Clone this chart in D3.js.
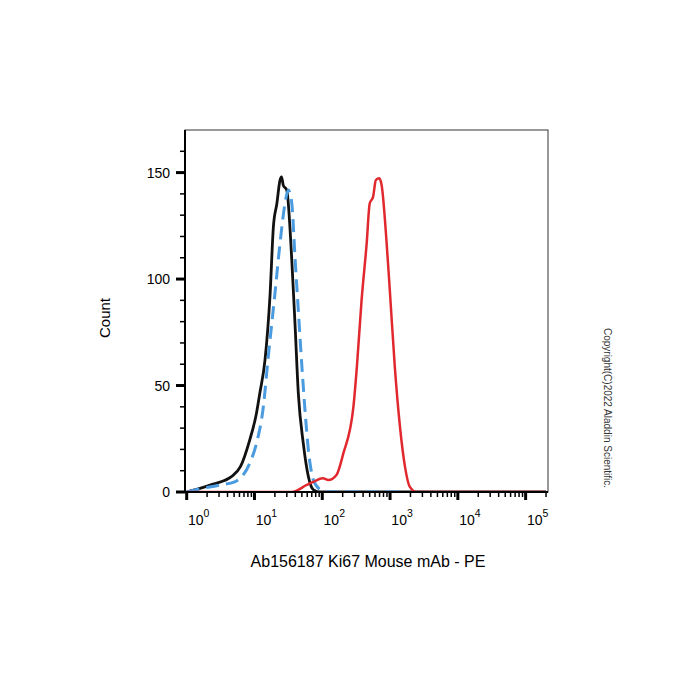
<!DOCTYPE html>
<html>
<head>
<meta charset="utf-8">
<script src="https://cdn.jsdelivr.net/npm/d3@7"></script>
<style>
  body { margin: 0; background: #fff; }
  text { font-family: Arial, "Liberation Sans", sans-serif; }
</style>
</head>
<body>
<svg id="chart" width="700" height="700"></svg>
<script>
// histogram traces: [intensity, count]
const blankTrace = [[1,0],[1.57,1.7],[2.45,3.7],[4.57,7.2],[6.2,11.9],[8.5,24.4],[10.7,37],[12,46.5],[14.3,62],[17,93],[19,124.5],[21.4,135.5],[23.8,146.5],[25.1,148],[26.6,144],[29.9,141.8],[35.5,109],[39.8,77.6],[44.3,46.5],[52.5,22.8],[62.4,7.2],[74.1,1],[93,0],[200000,0]];
const isotypeTrace = [[1,0],[1.6,1.5],[3.1,3.3],[5.1,4.8],[8.5,13.5],[10.7,22.8],[13.5,40],[15.8,62],[20,93],[23.8,116.8],[28.2,135.5],[31.6,141.8],[35.5,135.5],[39.8,109],[44.3,85.4],[50.1,58.8],[55.6,38.5],[62.4,19.7],[74.1,5.6],[93.3,1],[112,0],[1400,0]];
const ki67Trace = [[1,0],[35.5,0],[58.9,3.3],[74.1,4.8],[102,6.4],[123,5.6],[162,8],[204,18],[288,40],[324,58.8],[380,90],[452,116.8],[501,135.5],[562,138.6],[617,146.5],[692,147.3],[752,144],[891,116.8],[1000,93],[1175,58.8],[1400,30.7],[1660,11.9],[1950,2.5],[2450,0],[200000,0]];

const yMajor = [0, 50, 100, 150];
const yMinor = [10, 20, 30, 40, 60, 70, 80, 90, 110, 120, 130, 140, 160];
const xDecades = [0, 1, 2, 3, 4, 5];

const plotLeft = 185, plotRight = 548, plotTop = 130, plotBottom = 492;

const svg = d3.select("#chart");

const x = d3.scaleLog()
  .domain([Math.pow(10, -0.025), Math.pow(10, 5.33)])
  .range([plotLeft, plotRight]);

const y = d3.scaleLinear()
  .domain([0, 170])
  .range([plotBottom, plotTop]);

svg.append("clipPath").attr("id", "plot-clip")
  .append("rect")
  .attr("x", plotLeft).attr("y", plotTop - 5)
  .attr("width", plotRight - plotLeft).attr("height", plotBottom - plotTop + 5);

// frame
svg.append("rect")
  .attr("x", plotLeft).attr("y", plotTop)
  .attr("width", plotRight - plotLeft).attr("height", plotBottom - plotTop)
  .attr("fill", "none")
  .attr("stroke", "#333")
  .attr("stroke-width", 1);

const line = d3.line()
  .x(d => x(d[0]))
  .y(d => y(d[1]))
  .curve(d3.curveMonotoneX);

const traces = svg.append("g").attr("clip-path", "url(#plot-clip)");

traces.append("path")
  .attr("d", line(blankTrace))
  .attr("fill", "none")
  .attr("stroke", "#111")
  .attr("stroke-width", 2.8);

traces.append("path")
  .attr("d", line(isotypeTrace))
  .attr("fill", "none")
  .attr("stroke", "#4a9be0")
  .attr("stroke-width", 3)
  .attr("stroke-dasharray", "13,7");

traces.append("path")
  .attr("d", line(ki67Trace))
  .attr("fill", "none")
  .attr("stroke", "#e0282e")
  .attr("stroke-width", 2.5);

// y axis
const yAxis = svg.append("g");
yAxis.append("line")
  .attr("x1", plotLeft).attr("x2", plotLeft)
  .attr("y1", plotTop).attr("y2", plotBottom + 1)
  .attr("stroke", "#000").attr("stroke-width", 2);

yAxis.selectAll(".ymaj").data(yMajor).join("line")
  .attr("x1", plotLeft - 9).attr("x2", plotLeft)
  .attr("y1", d => y(d)).attr("y2", d => y(d))
  .attr("stroke", "#000").attr("stroke-width", 3);

yAxis.selectAll(".ymin").data(yMinor).join("line")
  .attr("x1", plotLeft - 5).attr("x2", plotLeft)
  .attr("y1", d => y(d)).attr("y2", d => y(d))
  .attr("stroke", "#000").attr("stroke-width", 1.5);

yAxis.selectAll("text").data(yMajor).join("text")
  .attr("x", plotLeft - 15)
  .attr("y", d => y(d) + 5)
  .attr("text-anchor", "end")
  .attr("font-size", "14px")
  .text(d => d);

// x axis
const xAxis = svg.append("g");
xAxis.append("line")
  .attr("x1", plotLeft - 1).attr("x2", plotRight)
  .attr("y1", plotBottom).attr("y2", plotBottom)
  .attr("stroke", "#000").attr("stroke-width", 2);

let minorVals = [];
xDecades.forEach(e => {
  for (let m = 2; m <= 9; m++) {
    const v = m * Math.pow(10, e);
    if (v <= x.domain()[1]) minorVals.push(v);
  }
});

xAxis.selectAll(".xmin").data(minorVals).join("line")
  .attr("x1", d => x(d)).attr("x2", d => x(d))
  .attr("y1", plotBottom).attr("y2", plotBottom + 5)
  .attr("stroke", "#000").attr("stroke-width", 1.5);

xAxis.selectAll(".xmaj").data(xDecades).join("line")
  .attr("x1", d => x(Math.pow(10, d))).attr("x2", d => x(Math.pow(10, d)))
  .attr("y1", plotBottom).attr("y2", plotBottom + 8)
  .attr("stroke", "#000").attr("stroke-width", 3);

const xl = xAxis.selectAll(".xlab").data(xDecades).join("text")
  .attr("x", d => x(Math.pow(10, d)) + 12)
  .attr("y", 525)
  .attr("text-anchor", "middle")
  .attr("font-size", "14px");
xl.append("tspan").text("10");
xl.append("tspan")
  .attr("dy", -8)
  .attr("font-size", "10.5px")
  .text(d => d);

// titles
svg.append("text")
  .attr("transform", "translate(110,318) rotate(-90)")
  .attr("text-anchor", "middle")
  .attr("font-size", "15px")
  .text("Count");

svg.append("text")
  .attr("x", 368)
  .attr("y", 567)
  .attr("text-anchor", "middle")
  .attr("font-size", "16px")
  .text("Ab156187 Ki67 Mouse mAb - PE");

svg.append("text")
  .attr("transform", "translate(604,408) rotate(90)")
  .attr("text-anchor", "middle")
  .attr("font-size", "10px")
  .attr("fill", "#333")
  .text("Copyright(C)2022 Aladdin Scientific.");
</script>
</body>
</html>
